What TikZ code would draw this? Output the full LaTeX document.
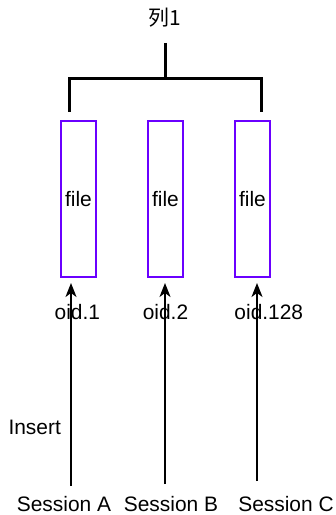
\documentclass[tikz,border=0pt]{standalone}
\usepackage{fontspec}
\setmainfont{Liberation Sans}
\newfontfamily\cjk{Noto Sans CJK SC}
\usetikzlibrary{arrows.meta}
\definecolor{filepurple}{HTML}{6A00FF}
\begin{document}
\begin{tikzpicture}[x=1bp,y=-1bp,
  lbl/.style={inner sep=0pt,anchor=base,font=\fontsize{21}{24}\selectfont},
  filebox/.style={draw=filepurple,line width=2bp,minimum width=35bp,minimum height=156bp,inner sep=0pt,outer sep=0pt},
  bracket/.style={line width=3bp},
  sess/.style={line width=1.5bp,-{Stealth[length=14bp,width=11bp,inset=4bp]}}]
\useasboundingbox (0,0) rectangle (335,515);
% title and bracket
\node[lbl,font=\cjk\fontsize{21}{24}\selectfont] (title) at (165,26) {列1};
\coordinate (stemtop) at (165.5,43);
\coordinate (stembot) at (165.5,78.5);
\coordinate (bl) at (69.5,78.5);
\coordinate (br) at (261.5,78.5);
\coordinate (blb) at (69.5,112);
\coordinate (brb) at (261.5,112);
\draw[bracket] (stemtop) -- (stembot);
\draw[bracket,line join=miter] (blb) -- (bl) -- (br) -- (brb);
% file boxes
\node[filebox] (f1) at (78.5,199) {};
\node[filebox] (f2) at (165.5,199) {};
\node[filebox] (f3) at (252.5,199) {};
\node[lbl] (t1) at (78.5,206.7) {file};
\node[lbl] (t2) at (165.5,206.7) {file};
\node[lbl] (t3) at (252.5,206.7) {file};
% arrows
\coordinate (a1s) at (71,486);
\coordinate (a1e) at (71,283);
\coordinate (a2s) at (165,484);
\coordinate (a2e) at (165,283);
\coordinate (a3s) at (257,481);
\coordinate (a3e) at (257,283);
\draw[sess] (a1s) -- (a1e);
\draw[sess] (a2s) -- (a2e);
\draw[sess] (a3s) -- (a3e);
% oid labels
\node[lbl] (o1) at (77.4,319.5) {oid.1};
\node[lbl] (o2) at (165.5,319.5) {oid.2};
\node[lbl] (o3) at (268.8,319.5) {oid.128};
% insert
\node[lbl] (ins) at (34.7,434) {Insert};
% sessions
\node[lbl] (sA) at (64,511.5) {Session A};
\node[lbl] (sB) at (171,511.5) {Session B};
\node[lbl] (sC) at (286,511.5) {Session C};
\end{tikzpicture}
\end{document}
